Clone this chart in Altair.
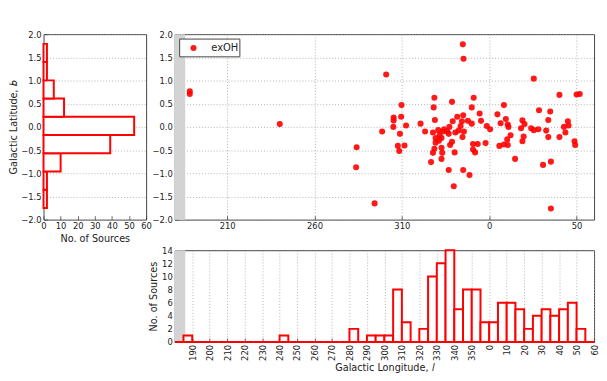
import altair as alt
import pandas as pd

# ---------------- data ----------------
# scatter: Galactic longitude (deg) and latitude (deg) of exOH sources
lon = [188.6, 188.6, 240.1, 284.1, 283.8, 294.4, 298.7, 301.0,
       305.3, 305.3, 305.1, 309.6, 308.9, 307.7, 308.5, 309.8,
       312.4, 311.5, 320.7, 323.3,
       328.6, 328.2, 328.9, 327.8, 329.3, 329.3, 328.6, 327.8, 326.7,
       330.8, 333.4, 331.6, 332.7, 332.7, 333.1, 332.7, 334.2, 331.2,
       338.7, 339.1, 337.2, 336.8, 338.7, 337.6, 340.2, 336.8, 339.7, 336.0,
       341.7, 340.6, 343.6, 344.4, 344.7, 345.1, 342.5,
       344.9, 345.3, 345.5, 347.8, 345.1, 348.7, 350.0,
       351.1, 350.0, 354.5, 350.7, 353.4, 350.7, 351.9,
       355.3, 358.6, 357.9,
       0.5, 4.7,
       6.5, 8.4, 9.5, 5.8, 8.4, 10.3,
       10.6, 11.0, 12.2, 10.6, 14.8,
       19.0, 18.2, 19.0, 19.7, 20.2,
       24.0, 25.5,
       25.5, 28.5, 28.1,
       32.6, 33.8, 33.8, 34.9, 30.8,
       35.3, 35.3,
       40.2, 40.2, 42.8, 43.6,
       45.0, 45.4, 48.8, 49.2,
       50.0, 51.8]
lat = [0.77, 0.71, 0.06, -0.44, -0.87, -1.65, -0.10, 1.13,
       0.20, 0.14, 0.00, 0.22, -0.15, -0.41, -0.52, 0.47,
       0.03, -0.40, 0.07, -0.10,
       0.63, 0.42, 0.15, -0.12, -0.24, -0.34, -0.47, -0.56, -0.76,
       -0.07, -0.10, -0.18, -0.24, -0.45, -0.56, -0.69, -0.05, -0.30,
       0.54, 0.12, 0.00, -0.15, -0.32, -0.39, -0.55, -0.93, -1.28, -0.10,
       0.22, -0.12, 0.02, 0.12, -0.22, 0.25, -0.08,
       1.78, 1.47, -0.10, 0.13, -0.93, -1.04, 0.42,
       0.63, 0.07, 0.29, -0.37, -0.37, -0.49, -0.55,
       0.13, 0.02, -0.35,
       -0.05, 0.27,
       0.08, 0.47, 0.17, -0.41, -0.38, -0.27,
       0.05, 0.00, -0.18, -0.39, -0.69,
       0.14, -0.03, -0.31, -0.21, 0.06,
       -0.03, -0.07,
       1.04, 0.36, -0.05,
       -0.08, 0.15, -0.22, 0.33, -0.82,
       -0.75, -1.76,
       0.69, -0.22, 0.00, -0.12,
       0.12, 0.03, -0.31, -0.39,
       0.70, 0.71]
series = "exOH"

# longitude histogram: bin starts (deg, width 5) and counts
lon_bin_start = list(range(180, 360, 5)) + list(range(0, 60, 5))
lon_counts = [0, 1, 0, 0, 0, 0, 0, 0, 0, 0, 0, 0,      # 180 .. 235
              1, 0, 0, 0, 0, 0, 0, 0, 2, 0, 1, 1,      # 240 .. 295
              1, 8, 3, 0, 2, 10, 12, 14, 5, 8, 8, 3,   # 300 .. 355
              3, 6, 6, 5, 2, 4, 5, 4, 5, 6, 2, 0]      # 0 .. 55

# latitude histogram: bin edges and counts
lat_edges = [-1.75, -1.357, -0.963, -0.57, -0.177, 0.217, 0.61, 1.003, 1.397, 1.79]
lat_counts = [2, 2, 10, 39, 53, 12, 6, 2, 2]

lat_ticks = [-2.0, -1.5, -1.0, -0.5, 0.0, 0.5, 1.0, 1.5, 2.0]
count_ticks_top = [0, 10, 20, 30, 40, 50, 60]
count_ticks_bottom = [0, 2, 4, 6, 8, 10, 12, 14]
scatter_lon_ticks = [210, 260, 310, 360, 410]
hist_lon_ticks = list(range(190, 421, 10))

# ---------------- tables ----------------
scatter_df = pd.DataFrame({"l": lon, "b": lat})
lonhist_df = pd.DataFrame({"start": lon_bin_start, "count": lon_counts})
lathist_df = pd.DataFrame({"lo": lat_edges[:-1], "hi": lat_edges[1:], "count": lat_counts})
one_row = alt.Data(values=[{}])

RED = "#ff0000"
FONT = "DejaVu Sans"
WRAP = "datum.value >= 360 ? datum.value - 360 : datum.value"
FRAME = "#444444"

lon_scale = alt.Scale(domain=[180, 420], nice=False, zero=False)
lat_scale = alt.Scale(domain=[-2, 2], nice=False, zero=False)
cnt_scale = alt.Scale(domain=[0, 14], nice=False, zero=False)

grid_kw = dict(gridColor="#a0a0a0", gridDash=[1, 2], gridWidth=0.8)

# ---------------- top-left: latitude histogram ----------------
lat_hist = alt.Chart(lathist_df).mark_rect(fill="white", stroke=RED, strokeWidth=2).encode(
    x=alt.X("count:Q", scale=alt.Scale(domain=[0, 60], nice=False),
            axis=alt.Axis(values=count_ticks_top, title="No. of Sources", grid=False)),
    x2=alt.datum(0),
    y=alt.Y("lo:Q", scale=lat_scale,
            axis=alt.Axis(values=lat_ticks, format=".1f", title="Galactic Latitude, 𝑏",
                          grid=True, titlePadding=2, **grid_kw)),
    y2="hi:Q",
).properties(width=104, height=188)

# ---------------- top-right: scatter ----------------
sc_x_axis = alt.Axis(values=scatter_lon_ticks, labelExpr=WRAP, title=None, grid=True, **grid_kw)
sc_y_axis = alt.Axis(values=lat_ticks, format=".1f", title=None, grid=True, **grid_kw)

band_top = alt.Chart(one_row).mark_rect(color="#d3d3d3").encode(
    x=alt.XDatum(180, axis=sc_x_axis, scale=lon_scale), x2=alt.datum(186),
    y=alt.YDatum(-2, axis=sc_y_axis, scale=lat_scale), y2=alt.datum(2)
)
points = alt.Chart(scatter_df).transform_calculate(
    ext="datum.l < 180 ? datum.l + 360 : datum.l"
).mark_circle(size=38, opacity=0.9, color=RED).encode(
    x=alt.X("ext:Q", scale=lon_scale, axis=sc_x_axis),
    y=alt.Y("b:Q", scale=lat_scale, axis=sc_y_axis),
)
leg_box = alt.Chart(one_row).mark_rect(fill="white", stroke=FRAME, strokeWidth=1).encode(
    x=alt.value(5), x2=alt.value(66), y=alt.value(5), y2=alt.value(23)
)
leg_dot = alt.Chart(one_row).mark_circle(size=38, opacity=0.9, color=RED).encode(
    x=alt.value(19), y=alt.value(14)
)
leg_txt = alt.Chart(one_row).mark_text(
    text=series, align="left", baseline="middle", font=FONT, fontSize=10, color="#222"
).encode(x=alt.value(37), y=alt.value(14.5))
scatter = alt.layer(band_top, points, leg_box, leg_dot, leg_txt).properties(width=425, height=188)

# ---------------- bottom: longitude histogram ----------------
h_x_axis = alt.Axis(values=hist_lon_ticks, labelExpr=WRAP, labelAngle=270,
                    title="Galactic Longitude, 𝑙", titlePadding=2, grid=True, **grid_kw)
h_y_axis = alt.Axis(values=count_ticks_bottom, title="No. of Sources", titlePadding=3, grid=False)

band_bot = alt.Chart(one_row).mark_rect(color="#d3d3d3").encode(
    x=alt.XDatum(180, axis=h_x_axis, scale=lon_scale), x2=alt.datum(186),
    y=alt.YDatum(0, axis=h_y_axis, scale=cnt_scale), y2=alt.datum(14)
)
lon_bars = alt.Chart(lonhist_df).transform_calculate(
    x0="datum.start < 180 ? datum.start + 360 : datum.start",
    x1="(datum.start < 180 ? datum.start + 360 : datum.start) + 5",
).mark_rect(fill="white", stroke=RED, strokeWidth=2).encode(
    x=alt.X("x0:Q", scale=lon_scale, axis=h_x_axis),
    x2="x1:Q",
    y=alt.Y("count:Q", scale=cnt_scale, axis=h_y_axis),
    y2=alt.datum(0),
)
lon_hist = alt.layer(band_bot, lon_bars).properties(width=425, height=93)

# empty placeholder under the latitude histogram
blank = alt.Chart(one_row).mark_point(opacity=0).encode(
    x=alt.value(0), y=alt.value(0)
).properties(width=104, height=93, view=alt.ViewBackground(stroke="transparent"))

chart = alt.concat(
    lat_hist, scatter, blank, lon_hist, columns=2, spacing={"row": 1, "column": -4}
).properties(
    align="each",
    padding={"left": 0, "top": 19, "right": 0, "bottom": 0},
).configure_view(
    stroke=FRAME, strokeWidth=1
).configure_axis(
    labelFont=FONT, titleFont=FONT, labelFontSize=8.5, titleFontSize=9.8,
    titleFontWeight="normal", labelColor="#222", titleColor="#222",
    domain=False, ticks=True, tickSize={"expr": "-4"}, tickColor=FRAME, tickWidth=0.8,
    labelPadding=6.5, titlePadding=3, labelOverlap=False, labelFlush=False
)

chart.save("out.html", embed_options={"renderer": "svg", "actions": False})
